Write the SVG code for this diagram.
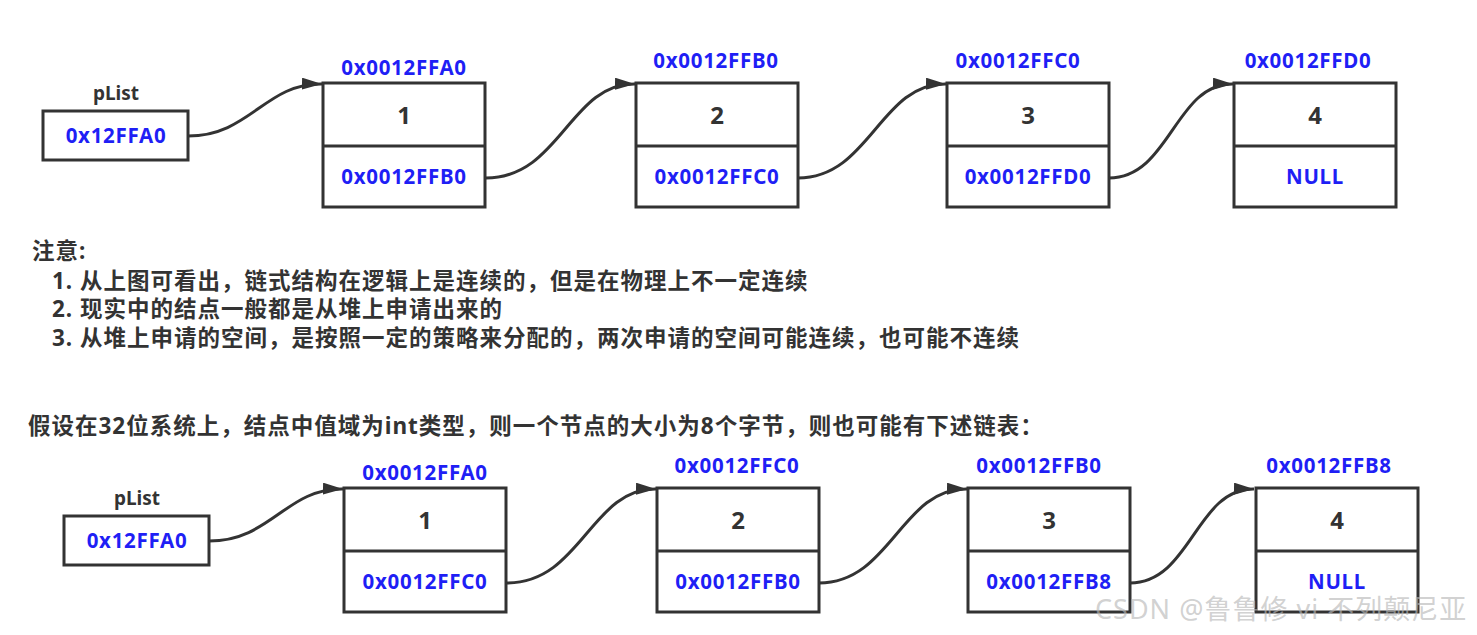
<svg xmlns="http://www.w3.org/2000/svg" width="1477" height="635" viewBox="0 0 1477 635">
<style>
.box{fill:#fff;stroke:#333;stroke-width:3}
.div{stroke:#333;stroke-width:3}
.addr{font-family:"Noto Sans","Liberation Sans",sans-serif;font-weight:bold;font-size:20.5px;letter-spacing:0.7px;fill:#1f1ff5;text-anchor:middle}
.num{font-family:"Noto Sans","Liberation Sans",sans-serif;font-weight:bold;font-size:24px;fill:#333;text-anchor:middle}
.lbl{font-family:"Noto Sans","Liberation Sans",sans-serif;font-weight:bold;font-size:19px;fill:#333;text-anchor:middle}
.note{font-family:"Noto Sans","Noto Sans CJK SC",sans-serif;font-weight:bold;font-size:22.5px;letter-spacing:1px;fill:#333}
.link{fill:none;stroke:#333;stroke-width:3}
.wm{font-family:"Noto Sans","Noto Sans CJK SC",sans-serif;font-size:27px;letter-spacing:1px;fill:#b8b8b8;fill-opacity:0.65}
</style>
<defs>
<marker id="arr" viewBox="0 0 20 12" refX="20" refY="6" markerWidth="20" markerHeight="12" markerUnits="userSpaceOnUse" orient="auto">
<path d="M0,0 L20,6 L0,12 z" fill="#333"/>
</marker>
</defs>
<rect width="1477" height="635" fill="#fff"/>

<g id="connectors">
<path class="link" marker-end="url(#arr)" d="M188,136 C250,136 265,83 322,84"/>
<path class="link" marker-end="url(#arr)" d="M486,178 C560,178 570,83 635,84"/>
<path class="link" marker-end="url(#arr)" d="M798,178 C870,178 880,83 946,84"/>
<path class="link" marker-end="url(#arr)" d="M1109,178 C1170,178 1175,83 1233,84"/>
<path class="link" marker-end="url(#arr)" d="M209,541 C271,541 286,488 343,489"/>
<path class="link" marker-end="url(#arr)" d="M507,583 C581,583 591,488 656,489"/>
<path class="link" marker-end="url(#arr)" d="M819,583 C891,583 901,488 967,489"/>
<path class="link" marker-end="url(#arr)" d="M1130,583 C1191,583 1196,488 1254,489"/>
</g>

<g id="plist1">
<text class="lbl" x="116" y="100">pList</text>
<rect class="box" x="43" y="111" width="145" height="49"/>
<text class="addr" x="116" y="143">0x12FFA0</text>
</g>
<g id="node1a">
<text class="addr" x="404" y="75">0x0012FFA0</text>
<rect class="box" x="323" y="83" width="162" height="124"/>
<line class="div" x1="323" y1="146" x2="485" y2="146"/>
<text class="num" x="404" y="124">1</text>
<text class="addr" x="404" y="184">0x0012FFB0</text>
</g>
<g id="node2a">
<text class="addr" x="716" y="68">0x0012FFB0</text>
<rect class="box" x="636" y="83" width="162" height="124"/>
<line class="div" x1="636" y1="146" x2="798" y2="146"/>
<text class="num" x="717" y="124">2</text>
<text class="addr" x="717" y="184">0x0012FFC0</text>
</g>
<g id="node3a">
<text class="addr" x="1018" y="68">0x0012FFC0</text>
<rect class="box" x="947" y="83" width="162" height="124"/>
<line class="div" x1="947" y1="146" x2="1109" y2="146"/>
<text class="num" x="1028" y="124">3</text>
<text class="addr" x="1028" y="184">0x0012FFD0</text>
</g>
<g id="node4a">
<text class="addr" x="1308" y="68">0x0012FFD0</text>
<rect class="box" x="1234" y="83" width="162" height="124"/>
<line class="div" x1="1234" y1="146" x2="1396" y2="146"/>
<text class="num" x="1315" y="124">4</text>
<text class="addr" x="1315" y="184">NULL</text>
</g>

<g id="notes">
<text class="note" x="32" y="259">注意:</text>
<text class="note" x="52" y="289">1. 从上图可看出，链式结构在逻辑上是连续的，但是在物理上不一定连续</text>
<text class="note" x="52" y="317">2. 现实中的结点一般都是从堆上申请出来的</text>
<text class="note" x="52" y="346">3. 从堆上申请的空间，是按照一定的策略来分配的，两次申请的空间可能连续，也可能不连续</text>
<text class="note" x="28" y="434">假设在32位系统上，结点中值域为int类型，则一个节点的大小为8个字节，则也可能有下述链表：</text>
</g>

<g id="plist2">
<text class="lbl" x="137" y="505">pList</text>
<rect class="box" x="64" y="516" width="145" height="49"/>
<text class="addr" x="137" y="548">0x12FFA0</text>
</g>
<g id="node1b">
<text class="addr" x="425" y="480">0x0012FFA0</text>
<rect class="box" x="344" y="488" width="162" height="124"/>
<line class="div" x1="344" y1="551" x2="506" y2="551"/>
<text class="num" x="425" y="529">1</text>
<text class="addr" x="425" y="589">0x0012FFC0</text>
</g>
<g id="node2b">
<text class="addr" x="737" y="473">0x0012FFC0</text>
<rect class="box" x="657" y="488" width="162" height="124"/>
<line class="div" x1="657" y1="551" x2="819" y2="551"/>
<text class="num" x="738" y="529">2</text>
<text class="addr" x="738" y="589">0x0012FFB0</text>
</g>
<g id="node3b">
<text class="addr" x="1039" y="473">0x0012FFB0</text>
<rect class="box" x="968" y="488" width="162" height="124"/>
<line class="div" x1="968" y1="551" x2="1130" y2="551"/>
<text class="num" x="1049" y="529">3</text>
<text class="addr" x="1049" y="589">0x0012FFB8</text>
</g>
<g id="node4b">
<text class="addr" x="1329" y="473">0x0012FFB8</text>
<rect class="box" x="1256" y="488" width="162" height="124"/>
<line class="div" x1="1256" y1="551" x2="1418" y2="551"/>
<text class="num" x="1337" y="529">4</text>
<text class="addr" x="1337" y="589">NULL</text>
</g>

<text class="wm" x="1095" y="619">CSDN @鲁鲁修 vi 不列颠尼亚</text>
</svg>
